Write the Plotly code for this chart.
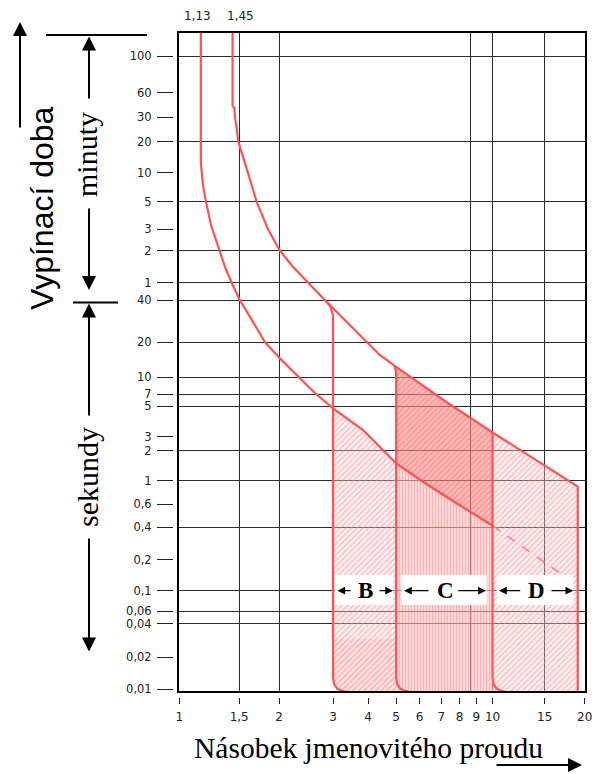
import numpy as np
import plotly.graph_objects as go

# ---------------- scale definition (non-uniform printed scales) ----------------
X_SCALE_VALUES = [1, 1.5, 2, 3, 4, 5, 6, 7, 8, 9, 10, 15, 20]
X_SCALE_POS = [179.3, 239.3, 279.3, 333.3, 368.3, 396.5, 420, 441.7, 460, 476.7, 493, 545.3, 585.3]

Y_SCALE_SECONDS = [6000, 3600, 1800, 1200, 600, 300, 180, 120, 60, 40, 20, 10, 7, 5, 3, 2,
                   1, 0.6, 0.4, 0.2, 0.1, 0.06, 0.04, 0.02, 0.01]
Y_SCALE_POS = [56, 92.7, 117, 141.7, 172.7, 201.7, 229, 250.7, 282.7, 300.3, 342, 377.3, 394.3,
               406, 436.7, 450.7, 480.7, 504, 527, 559.7, 590.7, 611, 623.7, 657, 689]

# ---------------- tick labels ----------------
X_TICK_VALUES = [1, 1.5, 2, 3, 4, 5, 6, 7, 8, 9, 10, 15, 20]
X_TICK_LABELS = ["1", "1,5", "2", "3", "4", "5", "6", "7", "8", "9", "10", "15", "20"]
X_GRID_VALUES = [1.5, 2, 8.63, 10, 15]

Y_TICK_SECONDS = Y_SCALE_SECONDS
Y_TICK_LABELS = ["100", "60", "30", "20", "10", "5", "3", "2", "1", "40", "20", "10", "7", "5",
                 "3", "2", "1", "0,6", "0,4", "0,2", "0,1", "0,06", "0,04", "0,02", "0,01"]
Y_GRID_SECONDS = [6000, 1200, 300, 120, 60, 40, 20, 10, 7, 5, 2, 1, 0.4, 0.1, 0.06, 0.04]

TOP_MARK_VALUES = [1.13, 1.45]
TOP_MARK_LABELS = ["1,13", "1,45"]

# ---------------- characteristic curves (multiple of In, seconds) ----------------
LOWER_X = [1.157, 1.157, 1.174, 1.198, 1.239, 1.310, 1.366, 1.425, 1.508, 1.643, 1.805, 2.011,
           2.336, 2.615, 3.0, 3.839, 5.0, 6.14, 7.71, 10.0]
LOWER_T = [9000, 745, 447, 300, 194, 120, 82.5, 60, 40, 28.8, 20, 14.5,
           9.79, 7.19, 4.81, 3.35, 1.495, 0.978, 0.627, 0.409]

LOWER_DASH_X = [10.0, 17.4]
LOWER_DASH_T = [0.409, 0.136]

UPPER_X = [1.434, 1.434, 1.452, 1.457, 1.474, 1.490, 1.597, 1.700, 1.844, 2.011, 2.217, 2.487,
           2.854, 3.35, 3.947, 4.388, 4.942, 7.26, 10.0, 19.02, 19.02]
UPPER_T = [9000, 2464, 2327, 1800, 1503, 1200, 600, 300, 180, 120, 84.9, 60,
           39.1, 28.0, 20, 15.5, 12.49, 5.61, 3.218, 0.877, 0.009]

B_LINE_X = [2.854, 2.948, 3.0, 3.0, 3.03, 3.105, 3.196, 3.358]
B_LINE_T = [39.1, 35.8, 30.8, 0.01269, 0.01102, 0.01007, 0.00968, 0.00937]

C_LINE_X = [4.942, 5.0, 5.0, 5.047, 5.158, 5.30, 5.55]
C_LINE_T = [12.49, 10.88, 0.01269, 0.01102, 0.01007, 0.00968, 0.00937]

D_LINE_X = [10.0, 10.0, 10.09, 10.33, 10.615, 11.06]
D_LINE_T = [3.218, 0.01269, 0.01102, 0.01007, 0.00968, 0.00937]

B_SPLIT_T = 0.0291

# ---------------- scale functions ----------------
_XL = np.log10(X_SCALE_VALUES)
_XP = np.array(X_SCALE_POS, float)
_YL = np.log10(Y_SCALE_SECONDS)[::-1]
_YP = np.array(Y_SCALE_POS, float)[::-1]


def xs(v):
    return np.interp(np.log10(np.asarray(v, float)), _XL, _XP)


def ys(t):
    lt = np.log10(np.asarray(t, float))
    out = np.interp(lt, _YL, _YP)
    lo = lt < _YL[0]
    hi = lt > _YL[-1]
    out[lo] = _YP[0] + (lt[lo] - _YL[0]) * (_YP[1] - _YP[0]) / (_YL[1] - _YL[0])
    out[hi] = _YP[-1] + (lt[hi] - _YL[-1]) * (_YP[-1] - _YP[-2]) / (_YL[-1] - _YL[-2])
    return out


# ---------------- region polygons built from the curves ----------------
def pts(xl, tl):
    return list(zip(xl, tl))


lower = pts(LOWER_X, LOWER_T)
upper = pts(UPPER_X, UPPER_T)
bline = pts(B_LINE_X, B_LINE_T)
cline = pts(C_LINE_X, C_LINE_T)
dline = pts(D_LINE_X, D_LINE_T)

low_b = [p for p in lower if 3.0 <= p[0] <= 5.0]
low_c = [p for p in lower if 5.0 <= p[0] <= 10.0]
up_c = [p for p in upper if 4.94 <= p[0] <= 10.0]
up_d = [p for p in upper if p[0] >= 10.0]

B_LIGHT = low_b + [(5.0, B_SPLIT_T), (3.0, B_SPLIT_T)]
B_DENSE = [(3.0, B_SPLIT_T), (5.0, B_SPLIT_T)] + cline[2:] + bline[3:][::-1]
C_DARK = up_c + low_c[::-1] + [cline[1]]
C_VERT = low_c + dline[1:] + cline[2:][::-1]
D_AREA = up_d + dline[1:][::-1]

RED = "#ff5252"

fig = go.Figure()


def add_fill(poly, pattern):
    px = [p[0] for p in poly] + [poly[0][0]]
    pt = [p[1] for p in poly] + [poly[0][1]]
    fig.add_trace(go.Scatter(x=xs(px), y=ys(pt), mode="lines", fill="toself",
                             line=dict(width=0), fillcolor="rgba(0,0,0,0)",
                             fillpattern=pattern, hoverinfo="skip", showlegend=False))


light = dict(shape="/", fgcolor="#ff8080", bgcolor="rgba(255,230,230,0.3)", size=4, solidity=0.38)
add_fill(B_LIGHT, light)
add_fill(B_DENSE, dict(shape="/", fgcolor="#ff7070", bgcolor="rgba(255,200,200,0.4)", size=4, solidity=0.42))
add_fill(D_AREA, light)
add_fill(C_VERT, dict(shape="|", fgcolor="#ff8080", bgcolor="rgba(255,205,205,0.5)", size=3, solidity=0.5))
add_fill(C_DARK, dict(shape="/", fgcolor="#ff6060", bgcolor="rgba(255,140,140,0.55)", size=4, solidity=0.4))


def add_line(xl, tl, width=2.2, dash="solid", color=RED):
    fig.add_trace(go.Scatter(x=xs(xl), y=ys(tl), mode="lines",
                             line=dict(color=color, width=width, dash=dash),
                             hoverinfo="skip", showlegend=False))


add_line(LOWER_X, LOWER_T)
add_line(LOWER_DASH_X, LOWER_DASH_T, width=1.6, dash="dash", color="#ff8080")
add_line(UPPER_X, UPPER_T)
add_line(B_LINE_X, B_LINE_T)
add_line(C_LINE_X, C_LINE_T)
add_line(D_LINE_X, D_LINE_T)

# dummy trace so the tick-only overlay axes are drawn
fig.add_trace(go.Scatter(x=[None], y=[None], xaxis="x2", yaxis="y2", showlegend=False, hoverinfo="skip"))

# ---------------- layout ----------------
# the page body adds an 8 px offset, so the figure is 8 px smaller and shifted accordingly
OFF = 8
W, H = 606 - OFF, 774 - OFF
ML, MR, MT, MB = 173 - OFF, 21, 33 - OFF, 77
PW, PH = W - ML - MR, H - MT - MB


def pxx(px):
    return (px - OFF - ML) / PW


def pyy(py):
    return (H - MB - (py - OFF)) / PH


XDOM = [pxx(179), 1]
YDOM = [pyy(691), 1]
XR = [179, 585.6]
YR = [691, 33]
GRID = "#2b2b2b"
TICKFONT = dict(family="DejaVu Sans", size=12, color="#222")

fig.update_layout(
    width=W, height=H, margin=dict(l=ML, r=MR, t=MT, b=MB, autoexpand=False),
    paper_bgcolor="white", plot_bgcolor="white", showlegend=False,
    xaxis=dict(domain=XDOM, range=XR, tickmode="array", tickvals=xs(X_GRID_VALUES),
               showticklabels=False, ticks="", showgrid=True, gridcolor=GRID, gridwidth=1.3,
               showline=True, mirror=True, linecolor="black", linewidth=2, zeroline=False),
    yaxis=dict(domain=YDOM, range=YR, tickmode="array", tickvals=ys(Y_GRID_SECONDS),
               showticklabels=False, ticks="", showgrid=True, gridcolor=GRID, gridwidth=1.3,
               showline=True, mirror=True, linecolor="black", linewidth=2, zeroline=False),
    xaxis2=dict(overlaying="x", anchor="free", position=0, domain=XDOM, range=XR,
                tickmode="array", tickvals=xs(X_TICK_VALUES), ticktext=X_TICK_LABELS,
                ticks="outside", ticklen=6, tickwidth=1.3, tickcolor="#222", ticklabelstandoff=3,
                showgrid=False, showline=False, zeroline=False, tickfont=TICKFONT),
    yaxis2=dict(overlaying="y", anchor="free", position=0, side="left", domain=YDOM, range=YR,
                tickmode="array", tickvals=ys(Y_TICK_SECONDS), ticktext=Y_TICK_LABELS,
                ticks="outside", ticklen=16, tickwidth=1.3, tickcolor="#222", ticklabelstandoff=3,
                showgrid=False, showline=False, zeroline=False,
                tickfont=dict(family="DejaVu Sans", size=11.5, color="#222")),
)

ann = []
shapes = []

# top marks
for v, lab, sh in zip(TOP_MARK_VALUES, TOP_MARK_LABELS, [0, 6]):
    ann.append(dict(x=float(xs([v])[0]), y=pyy(15.5), xref="x", yref="paper", text=lab,
                    showarrow=False, xshift=sh, font=TICKFONT, xanchor="center", yanchor="middle"))


def arrow(tip, tail, width=2, size=1.4):
    ann.append(dict(x=pxx(tip[0]), y=pyy(tip[1]), xref="paper", yref="paper", text="",
                    showarrow=True, arrowhead=2, arrowsize=size, arrowwidth=width,
                    arrowcolor="black", ax=tail[0] - tip[0], ay=tail[1] - tip[1], standoff=0))


def hline(x0, x1, y, width=2):
    shapes.append(dict(type="line", xref="paper", yref="paper", x0=pxx(x0), x1=pxx(x1),
                       y0=pyy(y), y1=pyy(y), line=dict(color="black", width=width)))


def label(text, x, y, size, family, angle=0):
    ann.append(dict(x=pxx(x), y=pyy(y), xref="paper", yref="paper", text=text, showarrow=False,
                    textangle=angle, xanchor="center", yanchor="middle",
                    font=dict(family=family, size=size, color="black")))


# left decorations
arrow((20, 22), (20, 129))
label("Vypínací doba", 42, 208, 32, "Liberation Sans", -90)
hline(46, 147, 35)
hline(73, 118, 302.5)
arrow((89, 36.5), (89, 100))
label("minuty", 87, 155, 30, "Liberation Serif", -90)
arrow((89, 290), (89, 207))
arrow((89, 303.5), (89, 417))
label("sekundy", 87, 477, 30, "Liberation Serif", -90)
arrow((89, 651.5), (89, 537))

# bottom decorations
label("Násobek jmenovitého proudu", 368, 748, 29.5, "Liberation Serif")
arrow((582, 765), (495, 765))

# B / C / D label boxes
boxes = [("B", 335, 393.3, 337.3, 352, 378, 393), ("C", 401.7, 486.7, 404, 430, 456.7, 486),
         ("D", 496.7, 573.3, 499, 521.7, 550, 573.3)]
for letter, bx0, bx1, ltip, ltail, rtail, rtip in boxes:
    shapes.append(dict(type="rect", xref="paper", yref="paper", x0=pxx(bx0), x1=pxx(bx1),
                       y0=pyy(605), y1=pyy(575), fillcolor="white", line=dict(width=0), layer="above"))
    label("<b>" + letter + "</b>", (bx0 + bx1) / 2 + 1, 590.5, 23, "Liberation Serif")
    arrow((ltip, 590.7), (ltail, 590.7), width=1.2, size=1.3)
    arrow((rtip, 590.7), (rtail, 590.7), width=1.2, size=1.3)

fig.update_layout(annotations=ann, shapes=shapes)
fig.write_html("out.html")
